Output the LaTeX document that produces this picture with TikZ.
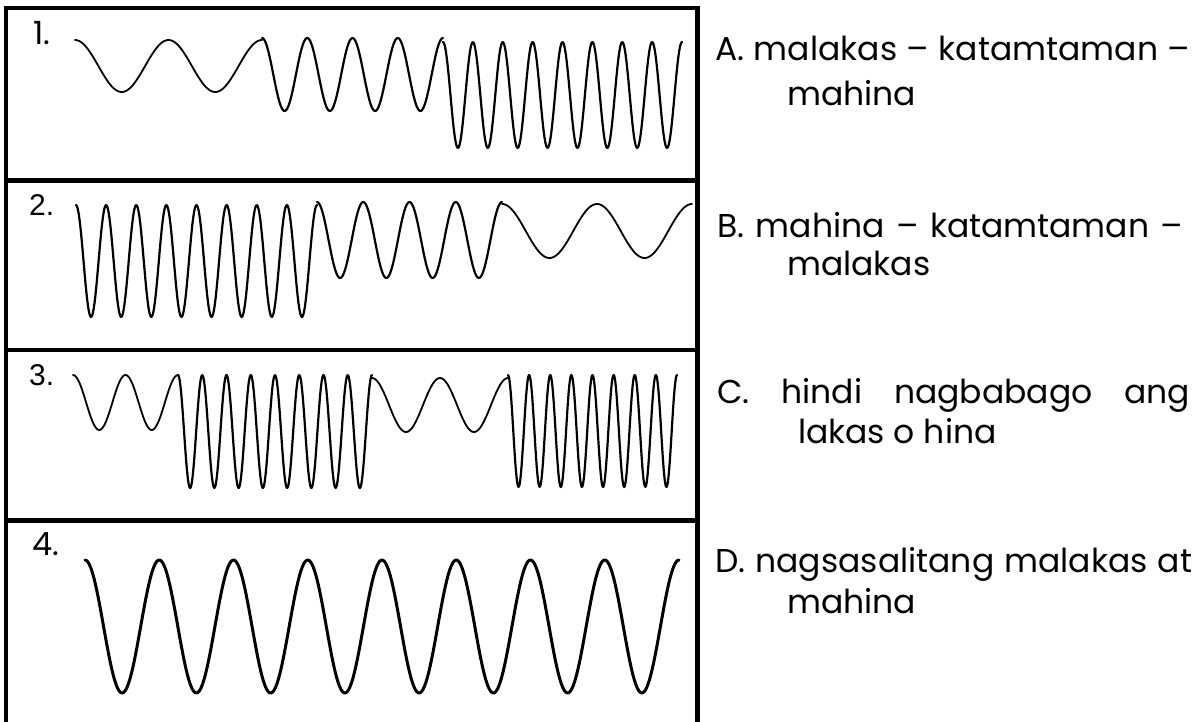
\documentclass[tikz,border=0pt]{standalone}
\usepackage{fontspec}
\setmainfont{Poppins}
\newfontfamily\arialf{Liberation Sans}
\begin{document}
\begin{tikzpicture}[x=1pt,y=-1pt,
  frameline/.style={line width=4.6pt,black},
  wave/.style={line width=2.2pt,black,line join=round,line cap=round},
  optxt/.style={anchor=base west,inner sep=0pt,font=\fontsize{33}{40}\selectfont},
  numtxt/.style={anchor=base west,inner sep=0pt,font=\fontsize{32}{38}\selectfont}]
\useasboundingbox (0,0) rectangle (1203,721);
\fill[white] (0,0) rectangle (1203,721);
% frame
\begin{scope}
\clip (0,0) rectangle (1203,721);
\draw[frameline] (6,6) -- (6,730);
\draw[frameline] (697.5,6) -- (697.5,730);
\foreach \yy in {8,180.5,350,520.5}{\draw[frameline] (3.7,\yy) -- (699.8,\yy);}
\end{scope}
% labels
\node[numtxt] (n1) at (33,44) {\hbox to 24pt{1.\hfill\strut}};
\node[numtxt,font=\arialf\fontsize{30}{36}\selectfont] (n2) at (29,215) {2.};
\node[numtxt,font=\arialf\fontsize{30}{36}\selectfont] (n3) at (29,385) {3.};
\node[numtxt] (n4) at (32,555) {4.};
% wave 1
\draw[wave,line width=1.8pt] plot[domain=75:262,samples=120] (\x,{66-26*cos((\x-75)/93.5*360)});
\draw[wave] plot[domain=262:443,samples=160] (\x,{74.5-36.5*cos((\x-262)/45.25*360)});
\draw[wave] plot[domain=443:682,samples=260] (\x,{95-53*cos((\x-443)/29.875*360)});
% wave 2
\draw[wave] plot[domain=76:317,samples=260] (\x,{261-56*cos((\x-76)/30.125*360)});
\draw[wave] plot[domain=317:502,samples=160] (\x,{240-38*cos((\x-317)/46.25*360)});
\draw[wave,line width=1.8pt] plot[domain=502:692,samples=120] (\x,{231-27*cos((\x-502)/95*360)});
% wave 3
\draw[wave,line width=1.8pt] plot[domain=73:178,samples=100] (\x,{402.5-27.5*cos((\x-73)/52.5*360)});
\draw[wave] plot[domain=178:372,samples=260] (\x,{431.5-56.5*cos((\x-178)/24.25*360)});
\draw[wave,line width=1.8pt] plot[domain=372:508,samples=100] (\x,{405-27*cos((\x-372)/68*360)});
\draw[wave] plot[domain=508:677,samples=260] (\x,{431-56*cos((\x-508)/21.125*360)});
% wave 4
\draw[wave,line width=3pt] plot[domain=85:679,samples=400] (\x,{626.5-66.5*cos((\x-85)/74.25*360)});
% options
\node[optxt] (a1) at (715,60) {\hbox to 475pt{A. malakas – katamtaman –}};
\node[optxt] (a2) at (787,105) {mahina};
\node[optxt] (b1) at (717,237) {\hbox to 466pt{B. mahina – katamtaman –}};
\node[optxt] (b2) at (787,275) {malakas};
\node[optxt] (c1) at (717,403) {\hbox to 473pt{C.\hfill hindi\hfill nagbabago\hfill ang}};
\node[optxt] (c2) at (798,443) {lakas o hina};
\node[optxt] (d1) at (715,572) {\hbox to 477pt{D. nagsasalitang malakas at}};
\node[optxt] (d2) at (787,613) {mahina};
\end{tikzpicture}
\end{document}
